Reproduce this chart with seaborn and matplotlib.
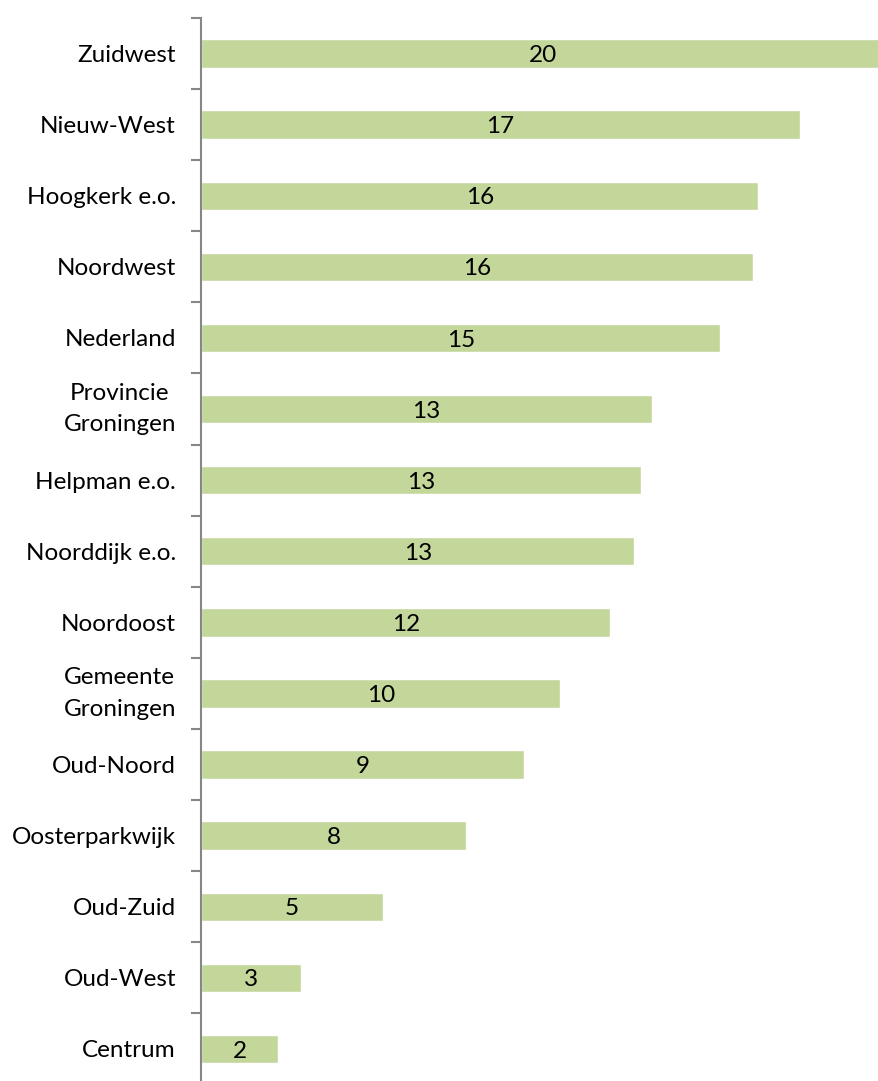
import matplotlib
matplotlib.use("Agg")
import matplotlib.pyplot as plt
import seaborn as sns
import pandas as pd
import numpy as np

# Neighbourhoods / regions and their values
categories = [
    "Zuidwest", "Nieuw-West", "Hoogkerk e.o.", "Noordwest", "Nederland",
    "Provincie\nGroningen", "Helpman e.o.", "Noorddijk e.o.", "Noordoost",
    "Gemeente\nGroningen", "Oud-Noord", "Oosterparkwijk", "Oud-Zuid",
    "Oud-West", "Centrum",
]
values = [19.9, 17.4, 16.2, 16.05, 15.1, 13.1, 12.8, 12.6, 11.9,
          10.45, 9.4, 7.7, 5.3, 2.9, 2.25]

df = pd.DataFrame({"categorie": categories, "waarde": values})

sns.set_theme(style="white")
plt.rcParams["font.family"] = ["Lato", "DejaVu Sans"]

W, H = 879, 1081
fig = plt.figure(figsize=(W / 100, H / 100), dpi=100)

px_per_unit = 34.4
left_px, top_px = 201, 18
slot = 71.1
right_px = left_px + 20 * px_per_unit
bottom_px = top_px + len(categories) * slot
ax = fig.add_axes([left_px / W, 1 - bottom_px / H,
                   (right_px - left_px) / W, (bottom_px - top_px) / H])

sns.barplot(data=df, y="categorie", x="waarde", orient="h", color="#C4D79B",
            saturation=1, width=0.4, ax=ax)

ax.set_xlim(0, 20)
ax.set_ylim(len(categories) - 0.5, -0.5)
ax.set_xlabel("")
ax.set_ylabel("")
ax.set_xticks([])

for s in ["top", "right", "bottom"]:
    ax.spines[s].set_visible(False)
ax.spines["left"].set_color("#868686")
ax.spines["left"].set_linewidth(1.5)

# Category labels without tick marks; tick marks on category boundaries
ax.set_yticks(range(len(categories)))
ax.set_yticklabels(categories, linespacing=1.62, multialignment="center",
                   fontsize=17.5, color="black")
for lbl in ax.get_yticklabels():
    if "\n" in lbl.get_text():
        lbl.set_verticalalignment("center")
ax.tick_params(axis="y", which="major", length=0, pad=18)
ax.set_yticks(np.arange(-0.5, len(categories), 1.0), minor=True)
ax.tick_params(axis="y", which="minor", length=7, width=1.5, color="#868686",
               direction="out", left=True)

# Value labels centred in each bar
for bar, v in zip(ax.patches, values):
    cx = bar.get_x() + bar.get_width() / 2
    cy = bar.get_y() + bar.get_height() / 2
    ax.annotate(f"{v:.0f}", (cx, cy), xytext=(0, -1.5),
                textcoords="offset points", ha="center", va="center",
                fontsize=17.5, color="black")

fig.savefig("out.png", dpi=100)
